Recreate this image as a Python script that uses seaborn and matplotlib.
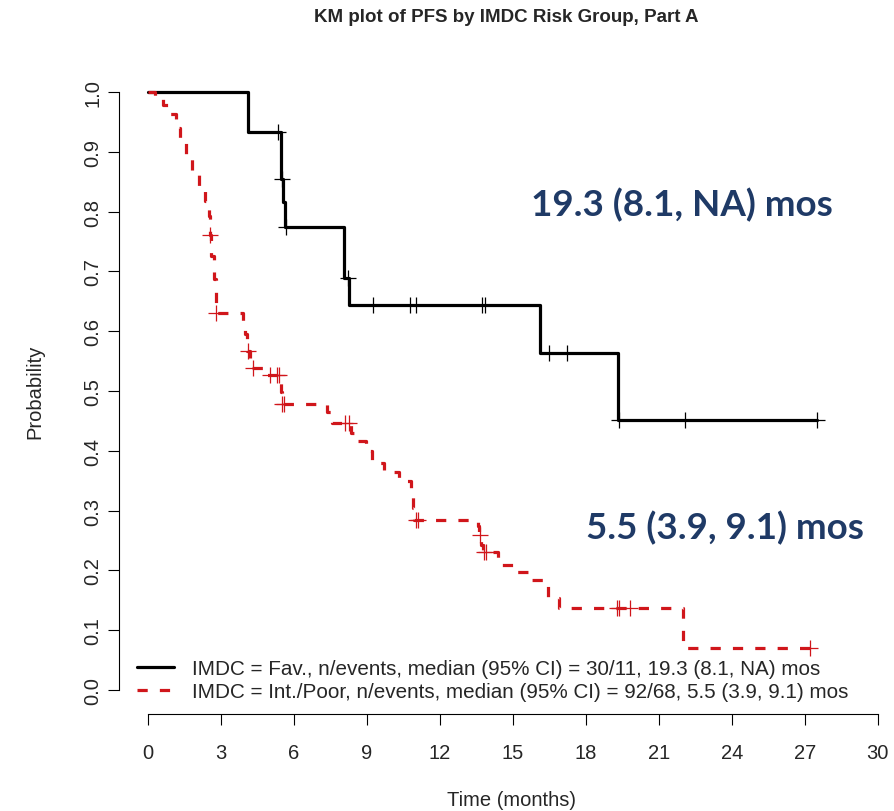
import numpy as np
import pandas as pd
import seaborn as sns
import matplotlib.pyplot as plt

# ---------------- data ----------------
fav_time = [0, 4.1, 5.45, 5.55, 5.62, 8.07, 8.27, 16.1, 19.3, 27.5]
fav_surv = [1.0, 0.933, 0.855, 0.816, 0.775, 0.689, 0.643, 0.563, 0.451, 0.451]
fav_cens = [5.35, 5.5, 5.66, 8.2, 9.26, 10.78, 11.03, 13.74, 13.83, 16.5, 17.2, 19.35, 22.06, 27.5]

poor_time = [0, 0.3, 0.6, 0.9, 1.15, 1.3, 1.55, 1.8, 2.1, 2.35, 2.5, 2.53, 2.6, 2.7, 2.78,
             3.88, 4.0, 4.08, 4.2, 4.85, 5.45, 5.5, 7.35, 7.55, 8.35, 8.55, 8.95, 9.2, 9.7,
             10.3, 10.8, 10.9, 10.95, 13.55, 13.62, 13.7, 13.75, 14.4, 15.05, 15.6, 16.45,
             16.9, 22.0, 27.2]
poor_surv = [1.0, 0.989, 0.978, 0.963, 0.94, 0.917, 0.89, 0.863, 0.843, 0.818, 0.793, 0.761,
             0.726, 0.688, 0.63, 0.606, 0.595, 0.567, 0.539, 0.526, 0.499, 0.478, 0.465, 0.447,
             0.43, 0.417, 0.40, 0.379, 0.365, 0.35, 0.337, 0.304, 0.284, 0.275, 0.259, 0.243,
             0.231, 0.209, 0.198, 0.184, 0.154, 0.138, 0.071, 0.071]
poor_cens = [2.55, 2.8, 4.1, 4.3, 5.0, 5.3, 5.38, 5.52, 5.6, 8.1, 8.25, 11.0, 11.1, 13.65,
             13.8, 13.9, 19.26, 19.36, 19.8, 27.2]

fav_label = 'IMDC = Fav., n/events, median (95% CI) = 30/11, 19.3 (8.1, NA) mos'
poor_label = 'IMDC = Int./Poor, n/events, median (95% CI) = 92/68, 5.5 (3.9, 9.1) mos'
fav_median = '19.3 (8.1, NA) mos'
poor_median = '5.5 (3.9, 9.1) mos'

x_ticks = list(range(0, 31, 3))
y_ticks = [0.0, 0.1, 0.2, 0.3, 0.4, 0.5, 0.6, 0.7, 0.8, 0.9, 1.0]


def censor_levels(times, surv, cens):
    # survival level of the step curve at each censoring time
    idx = np.searchsorted(times, cens, side='right') - 1
    return np.asarray(surv)[idx]


fav_df = pd.DataFrame({'time': fav_time, 'surv': fav_surv})
poor_df = pd.DataFrame({'time': poor_time, 'surv': poor_surv})
fav_c = pd.DataFrame({'time': fav_cens, 'surv': censor_levels(fav_time, fav_surv, fav_cens)})
poor_c = pd.DataFrame({'time': poor_cens, 'surv': censor_levels(poor_time, poor_surv, poor_cens)})

# ---------------- plot ----------------
sns.set_style('ticks')
plt.rcParams['font.family'] = ['Liberation Sans', 'DejaVu Sans']

red = '#d0161b'
navy = '#1f3a66'
fs = 14.5

fig = plt.figure(figsize=(8.95, 8.12), dpi=100)
ax = fig.add_axes([119 / 895, 97 / 812, 788 / 895, 646 / 812])

sns.lineplot(data=fav_df, x='time', y='surv', ax=ax, color='black', lw=2.3,
             drawstyle='steps-post', estimator=None, label=fav_label)
sns.lineplot(data=poor_df, x='time', y='surv', ax=ax, color=red, lw=2.3,
             drawstyle='steps-post', estimator=None, label=poor_label,
             linestyle=(0, (3.2, 3.8)))

sns.scatterplot(data=fav_c, x='time', y='surv', ax=ax, marker='+', s=120,
                color='black', linewidth=0.9, zorder=5)
sns.scatterplot(data=poor_c, x='time', y='surv', ax=ax, marker='+', s=120,
                color=red, linewidth=0.9, zorder=5)

ax.set_xlim(-1.2, 31.2)
ax.set_ylim(-0.04, 1.04)
ax.set_xticks(x_ticks)
ax.set_yticks(y_ticks)
ax.set_xticklabels([str(t) for t in x_ticks], fontsize=fs)
ax.set_yticklabels([f'{v:.1f}' for v in y_ticks], fontsize=fs, rotation=90, va='center')
ax.tick_params(axis='x', length=8, width=0.8, pad=13, color='black')
ax.tick_params(axis='y', length=8, width=0.8, pad=4, color='black')

for s in ['top', 'right']:
    ax.spines[s].set_visible(False)
ax.spines['left'].set_bounds(0, 1)
ax.spines['bottom'].set_bounds(0, 30)
for s in ['left', 'bottom']:
    ax.spines[s].set_linewidth(0.8)
    ax.spines[s].set_color('black')

ax.set_xlabel('Time (months)', fontsize=fs)
ax.set_ylabel('Probability', fontsize=fs)
ax.xaxis.set_label_coords((512 - 119) / 788, (715 - 791) / 646)
ax.yaxis.set_label_coords((44 - 119) / 788, 0.5)

ax.legend(loc='lower left', bbox_to_anchor=(137 / 895, (812 - 702) / 812),
          bbox_transform=fig.transFigure, frameon=False, fontsize=14.9,
          handlelength=1.8, handletextpad=0.85, labelspacing=0.2,
          borderpad=0, borderaxespad=0)

ax.text(21.95, 0.813, fav_median, color=navy, fontsize=26.5, fontweight='bold',
        family=['Lato', 'DejaVu Sans'], ha='center', va='center')
ax.text(23.7, 0.273, poor_median, color=navy, fontsize=26.5, fontweight='bold',
        family=['Lato', 'DejaVu Sans'], ha='center', va='center')

fig.text(506 / 895, 1 - 17 / 812, 'KM plot of PFS by IMDC Risk Group, Part A',
         ha='center', va='center', fontsize=13.5, fontweight='bold')

fig.savefig('out.png', dpi=100)
